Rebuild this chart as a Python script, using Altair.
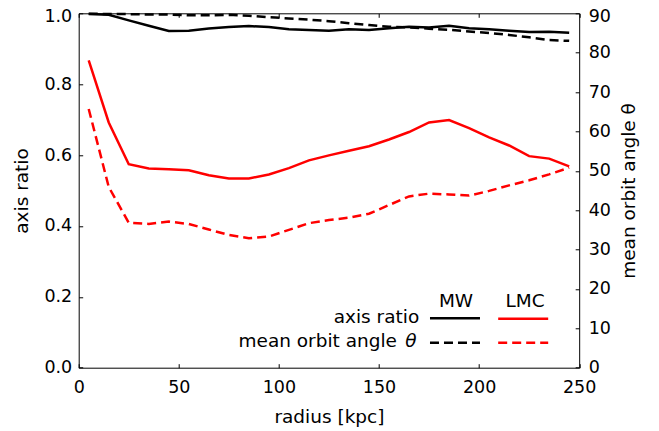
import altair as alt
import pandas as pd

radius = [5, 15, 25, 35, 45, 55, 65, 75, 85, 95, 105, 115, 125, 135, 145,
          155, 165, 175, 185, 195, 205, 215, 225, 235, 245]

mw_ratio = [0.998, 0.996, 0.980, 0.965, 0.950, 0.951, 0.957, 0.961, 0.964, 0.961,
            0.955, 0.953, 0.951, 0.955, 0.953, 0.958, 0.962, 0.960, 0.965, 0.958,
            0.955, 0.951, 0.947, 0.948, 0.945]
lmc_ratio = [0.867, 0.692, 0.574, 0.562, 0.560, 0.557, 0.543, 0.534, 0.534, 0.545,
             0.563, 0.585, 0.599, 0.612, 0.625, 0.644, 0.665, 0.692, 0.699, 0.676,
             0.650, 0.627, 0.597, 0.590, 0.568]
mw_angle = [89.9, 89.8, 89.8, 89.7, 89.7, 89.5, 89.5, 89.6, 89.4, 89.0,
            88.7, 88.4, 88.0, 87.5, 87.0, 86.6, 86.4, 86.1, 85.8, 85.4,
            85.0, 84.5, 83.9, 83.2, 83.0]
lmc_angle = [65.7, 45.9, 36.8, 36.5, 37.1, 36.5, 35.1, 33.7, 32.9, 33.3,
             35.0, 36.7, 37.5, 38.1, 39.1, 41.3, 43.5, 44.2, 44.0, 43.7,
             44.9, 46.3, 47.6, 49.1, 50.8]

galaxies = ["MW", "LMC"]
colors = ["#000000", "#ff0000"]
quantities = ["axis ratio", "mean orbit angle"]
x_ticks = [0, 50, 100, 150, 200, 250]
ratio_ticks = [0.0, 0.2, 0.4, 0.6, 0.8, 1.0]
angle_ticks = [0, 10, 20, 30, 40, 50, 60, 70, 80, 90]

rows = []
for g, rs, ans in [("MW", mw_ratio, mw_angle), ("LMC", lmc_ratio, lmc_angle)]:
    for r, q, a in zip(radius, rs, ans):
        rows.append({"radius": r, "galaxy": g, "ratio": q, "angle": a})
df = pd.DataFrame(rows)

FONT = "DejaVu Sans"
FS_TICK = 17.5
FS_TITLE = 18.5
W, H = 500.5, 354.4

x_scale = alt.Scale(domain=[0, 250], nice=False, zero=False)
color_scale = alt.Scale(domain=galaxies, range=colors)

common_axis = dict(domain=False, grid=False, tickSize=4, offset=-4, tickColor="black",
                   tickWidth=1, labelFont=FONT, labelFontSize=FS_TICK, labelColor="black",
                   titleFont=FONT, titleFontSize=FS_TITLE, titleFontWeight="normal",
                   titleColor="black", labelFlush=False, labelOverlap=False)

ratio_chart = alt.Chart(df).mark_line(strokeWidth=2.5).encode(
    x=alt.X("radius:Q", scale=x_scale,
            axis=alt.Axis(orient="bottom", values=x_ticks, title="radius [kpc]",
                          labelPadding=11, titlePadding=11, **common_axis)),
    y=alt.Y("ratio:Q", scale=alt.Scale(domain=[0, 1], nice=False),
            axis=alt.Axis(orient="left", values=ratio_ticks, format=".1f",
                          title="axis ratio", labelPadding=7, titlePadding=12,
                          labelOffset={"condition": {"test": "datum.value >= 1", "value": 3},
                                       "value": 0},
                          **common_axis)),
    color=alt.Color("galaxy:N", scale=color_scale, legend=None),
)

angle_chart = alt.Chart(df).mark_line(strokeWidth=2.5, strokeDash=[9, 5]).encode(
    x=alt.X("radius:Q", scale=x_scale,
            axis=alt.Axis(orient="top", values=x_ticks, labels=False, title=None,
                          **common_axis)),
    y=alt.Y("angle:Q", scale=alt.Scale(domain=[0, 90], nice=False),
            axis=alt.Axis(orient="right", values=angle_ticks, format="d",
                          title="mean orbit angle θ", titleAngle=270,
                          titleBaseline="top", labelPadding=9, titlePadding=9,
                          labelOffset={"condition": {"test": "datum.value >= 90", "value": 3},
                                       "value": 0},
                          **common_axis)),
    color=alt.Color("galaxy:N", scale=color_scale, legend=None),
)

one = pd.DataFrame({"k": [0]})
base = alt.Chart(one)
txt = dict(font=FONT, fontSize=FS_TITLE, color="black", baseline="alphabetic")

legend_layers = [
    base.mark_text(align="center", **txt).encode(
        x=alt.value(377.3), y=alt.value(293.5), text=alt.value(galaxies[0])),
    base.mark_text(align="center", **txt).encode(
        x=alt.value(446.3), y=alt.value(293.5), text=alt.value(galaxies[1])),
    base.mark_text(align="right", **txt).encode(
        x=alt.value(340.5), y=alt.value(310), text=alt.value(quantities[0])),
    base.mark_text(align="right", **txt).encode(
        x=alt.value(318.3), y=alt.value(333.5), text=alt.value(quantities[1])),
    base.mark_text(align="left", fontStyle="italic", **txt).encode(
        x=alt.value(326.5), y=alt.value(333.5), text=alt.value("θ")),
    base.mark_rule(strokeWidth=2.5, color=colors[0]).encode(
        x=alt.value(351.3), x2=alt.value(401.3), y=alt.value(305)),
    base.mark_rule(strokeWidth=2.5, color=colors[1]).encode(
        x=alt.value(419.5), x2=alt.value(469.5), y=alt.value(305.5)),
    base.mark_rule(strokeWidth=2.5, color=colors[0], strokeDash=[9, 5]).encode(
        x=alt.value(351.3), x2=alt.value(401.3), y=alt.value(329.4)),
    base.mark_rule(strokeWidth=2.5, color=colors[1], strokeDash=[9, 5]).encode(
        x=alt.value(419.5), x2=alt.value(469.5), y=alt.value(329.4)),
]

chart = alt.layer(angle_chart, ratio_chart, *legend_layers).resolve_scale(
    y="independent"
).resolve_axis(
    x="independent", y="independent"
).properties(
    width=W, height=H,
    autosize=alt.AutoSizeParams(type="none"),
    padding={"left": 70.7, "top": 5.3, "right": 71, "bottom": 63},
    background="white",
).configure_view(stroke="black", strokeWidth=1)

chart.save("out.html", embed_options={"renderer": "svg", "actions": False})
